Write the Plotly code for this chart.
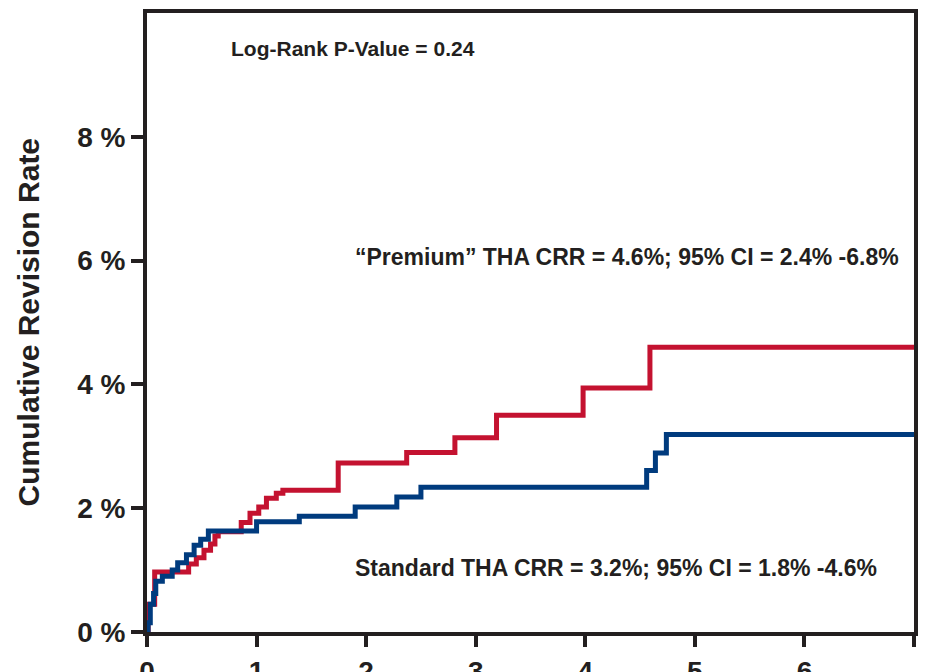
import plotly.graph_objects as go

# Years since surgery and cumulative revision rate (%)
premium_t = [0, 0.01, 0.07, 0.38, 0.45, 0.52, 0.58, 0.62, 0.65, 0.86, 0.94, 1.02,
             1.09, 1.18, 1.24, 1.745, 2.37, 2.81, 3.19, 3.98, 4.59, 7.0]
premium_r = [0, 0.45, 0.97, 1.10, 1.20, 1.32, 1.42, 1.55, 1.62, 1.77, 1.92, 2.02,
             2.16, 2.24, 2.29, 2.73, 2.90, 3.14, 3.50, 3.94, 4.60, 4.60]

standard_t = [0, 0.01, 0.03, 0.06, 0.08, 0.14, 0.23, 0.28, 0.36, 0.43, 0.49, 0.56,
              1.0, 1.39, 1.90, 2.28, 2.50, 4.56, 4.64, 4.74, 7.0]
standard_r = [0, 0.15, 0.45, 0.62, 0.82, 0.90, 1.00, 1.12, 1.25, 1.40, 1.50, 1.63,
              1.78, 1.87, 2.02, 2.18, 2.34, 2.61, 2.89, 3.19, 3.19]

x_ticks = [0, 1, 2, 3, 4, 5, 6, 7]
y_ticks = [0, 2, 4, 6, 8]
y_ticklabels = ["0 %", "2 %", "4 %", "6 %", "8 %"]

RED = "#C41230"
BLUE = "#003B7E"
INK = "#231F20"
FONT = "Liberation Sans"

fig = go.Figure()
fig.add_trace(go.Scatter(x=premium_t, y=premium_r, mode="lines",
                         line=dict(shape="hv", color=RED, width=5),
                         name="Premium THA", showlegend=False))
fig.add_trace(go.Scatter(x=standard_t, y=standard_r, mode="lines",
                         line=dict(shape="hv", color=BLUE, width=5),
                         name="Standard THA", showlegend=False))

fig.update_layout(
    width=911, height=672,
    margin=dict(l=139, r=5, t=5, b=48),
    paper_bgcolor="white", plot_bgcolor="white",
    font=dict(family=FONT, color=INK),
    xaxis=dict(range=[0, 7], tickmode="array", tickvals=x_ticks,
               ticktext=[f"<b>{v}</b>" for v in x_ticks],
               showgrid=False, zeroline=False, automargin=False,
               showline=True, linecolor=INK, linewidth=4, mirror=True,
               ticks="outside", ticklen=11, tickwidth=4, tickcolor=INK,
               tickfont=dict(size=28, family=FONT, color=INK)),
    yaxis=dict(range=[0, 10], tickmode="array", tickvals=y_ticks,
               ticktext=[f"<b>{s}</b>" for s in y_ticklabels],
               showgrid=False, zeroline=False, automargin=False,
               showline=True, linecolor=INK, linewidth=4, mirror=True,
               ticks="outside", ticklen=12, tickwidth=4, tickcolor=INK,
               tickfont=dict(size=28, family=FONT, color=INK)),
)

fig.add_annotation(text="<b>Cumulative Revision Rate</b>", textangle=-90,
                   xref="paper", yref="paper", x=-0.154, y=0.5,
                   xanchor="center", yanchor="middle", showarrow=False,
                   font=dict(size=30, family=FONT, color=INK))
fig.add_annotation(text="<b>Log-Rank P-Value = 0.24</b>",
                   xref="x", yref="y", x=0.75, y=9.42,
                   xanchor="left", yanchor="middle", showarrow=False,
                   font=dict(size=21, family=FONT, color=INK))
fig.add_annotation(text="<b>\u201cPremium\u201d THA CRR = 4.6%; 95% CI = 2.4% -6.8%</b>",
                   xref="x", yref="y", x=1.88, y=6.06,
                   xanchor="left", yanchor="middle", showarrow=False,
                   font=dict(size=23, family=FONT, color=INK))
fig.add_annotation(text="<b>Standard THA CRR = 3.2%; 95% CI = 1.8% -4.6%</b>",
                   xref="x", yref="y", x=1.88, y=1.03,
                   xanchor="left", yanchor="middle", showarrow=False,
                   font=dict(size=23, family=FONT, color=INK))

fig.write_html("out.html")
